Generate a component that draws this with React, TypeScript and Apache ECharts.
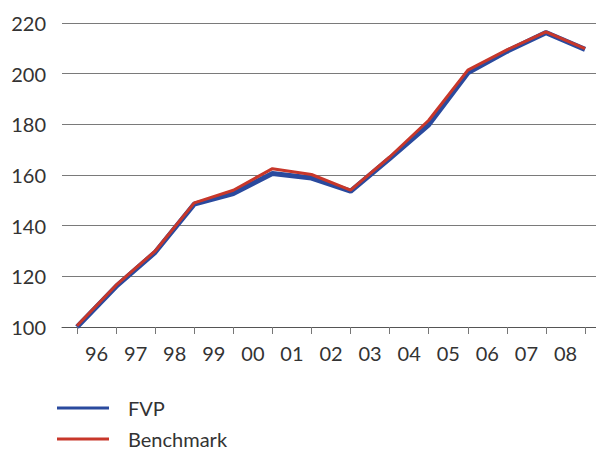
import React, { useEffect, useRef } from "react";
import * as echarts from "echarts";

const yearLabels = ["96", "97", "98", "99", "00", "01", "02", "03", "04", "05", "06", "07", "08"];
const fvpValues = [100, 116, 129.5, 148.5, 152.7, 160.6, 158.8, 153.6, 166.5, 179.8, 200.3, 208.8, 216.2, 209.6];
const benchmarkValues = [100.5, 116.5, 130, 149, 154, 162.5, 160.2, 154, 167.1, 181.6, 201.4, 209.4, 216.5, 209.9];
const yTicks = [100, 120, 140, 160, 180, 200, 220];
const seriesNames = ["FVP", "Benchmark"];

const FONT = "Lato, 'Open Sans', sans-serif";

export default function App() {
  const ref = useRef<HTMLDivElement>(null);
  useEffect(() => {
    document.body.style.margin = "0";
    if (!ref.current) return;
    const chart = echarts.init(ref.current, undefined, { renderer: "svg" });
    const tickPositions = fvpValues.map((_, i) => i);
    const labelPositions = yearLabels.map((_, i) => i + 0.5);
    const legendBase = {
      left: 57,
      icon: "rect",
      itemWidth: 52,
      itemHeight: 3,
      padding: 0,
      textStyle: {
        fontFamily: FONT,
        fontSize: 20,
        lineHeight: 20,
        color: "#333333",
        padding: [0, 0, 0, 14],
      },
    };
    chart.setOption({
      animation: false,
      backgroundColor: "#ffffff",
      grid: { left: 62, right: 0, top: 23, bottom: 123, containLabel: false },
      xAxis: {
        type: "value",
        min: -0.384,
        max: 13.28,
        splitLine: { show: false },
        axisLine: { show: true, lineStyle: { color: "#555555", width: 1 } },
        axisTick: {
          show: true,
          customValues: tickPositions,
          length: 7,
          lineStyle: { color: "#777777", width: 1 },
        },
        axisLabel: {
          customValues: labelPositions,
          formatter: (v: number) => yearLabels[Math.round(v - 0.5)] ?? "",
          fontFamily: FONT,
          fontSize: 20,
          color: "#333333",
          margin: 16,
        },
      },
      yAxis: {
        type: "value",
        min: yTicks[0],
        max: yTicks[yTicks.length - 1],
        interval: 20,
        axisLine: { show: false },
        axisTick: { show: false },
        axisLabel: { fontFamily: FONT, fontSize: 20, color: "#333333", margin: 16 },
        splitLine: { show: true, lineStyle: { color: "#7a7a7a", width: 1 } },
      },
      legend: [
        { ...legendBase, data: [seriesNames[0]], top: 398 },
        { ...legendBase, data: [seriesNames[1]], top: 429 },
      ],
      series: [
        {
          name: seriesNames[0],
          type: "line",
          data: fvpValues.map((v, i) => [i, v]),
          showSymbol: false,
          symbol: "none",
          color: "#2a4a9e",
          lineStyle: { color: "#2a4a9e", width: 5 },
        },
        {
          name: seriesNames[1],
          type: "line",
          data: benchmarkValues.map((v, i) => [i, v]),
          showSymbol: false,
          symbol: "none",
          color: "#c8372a",
          lineStyle: { color: "#c8372a", width: 3 },
        },
      ],
    });
    return () => chart.dispose();
  }, []);
  return <div ref={ref} style={{ width: 596, height: 450 }} />;
}
